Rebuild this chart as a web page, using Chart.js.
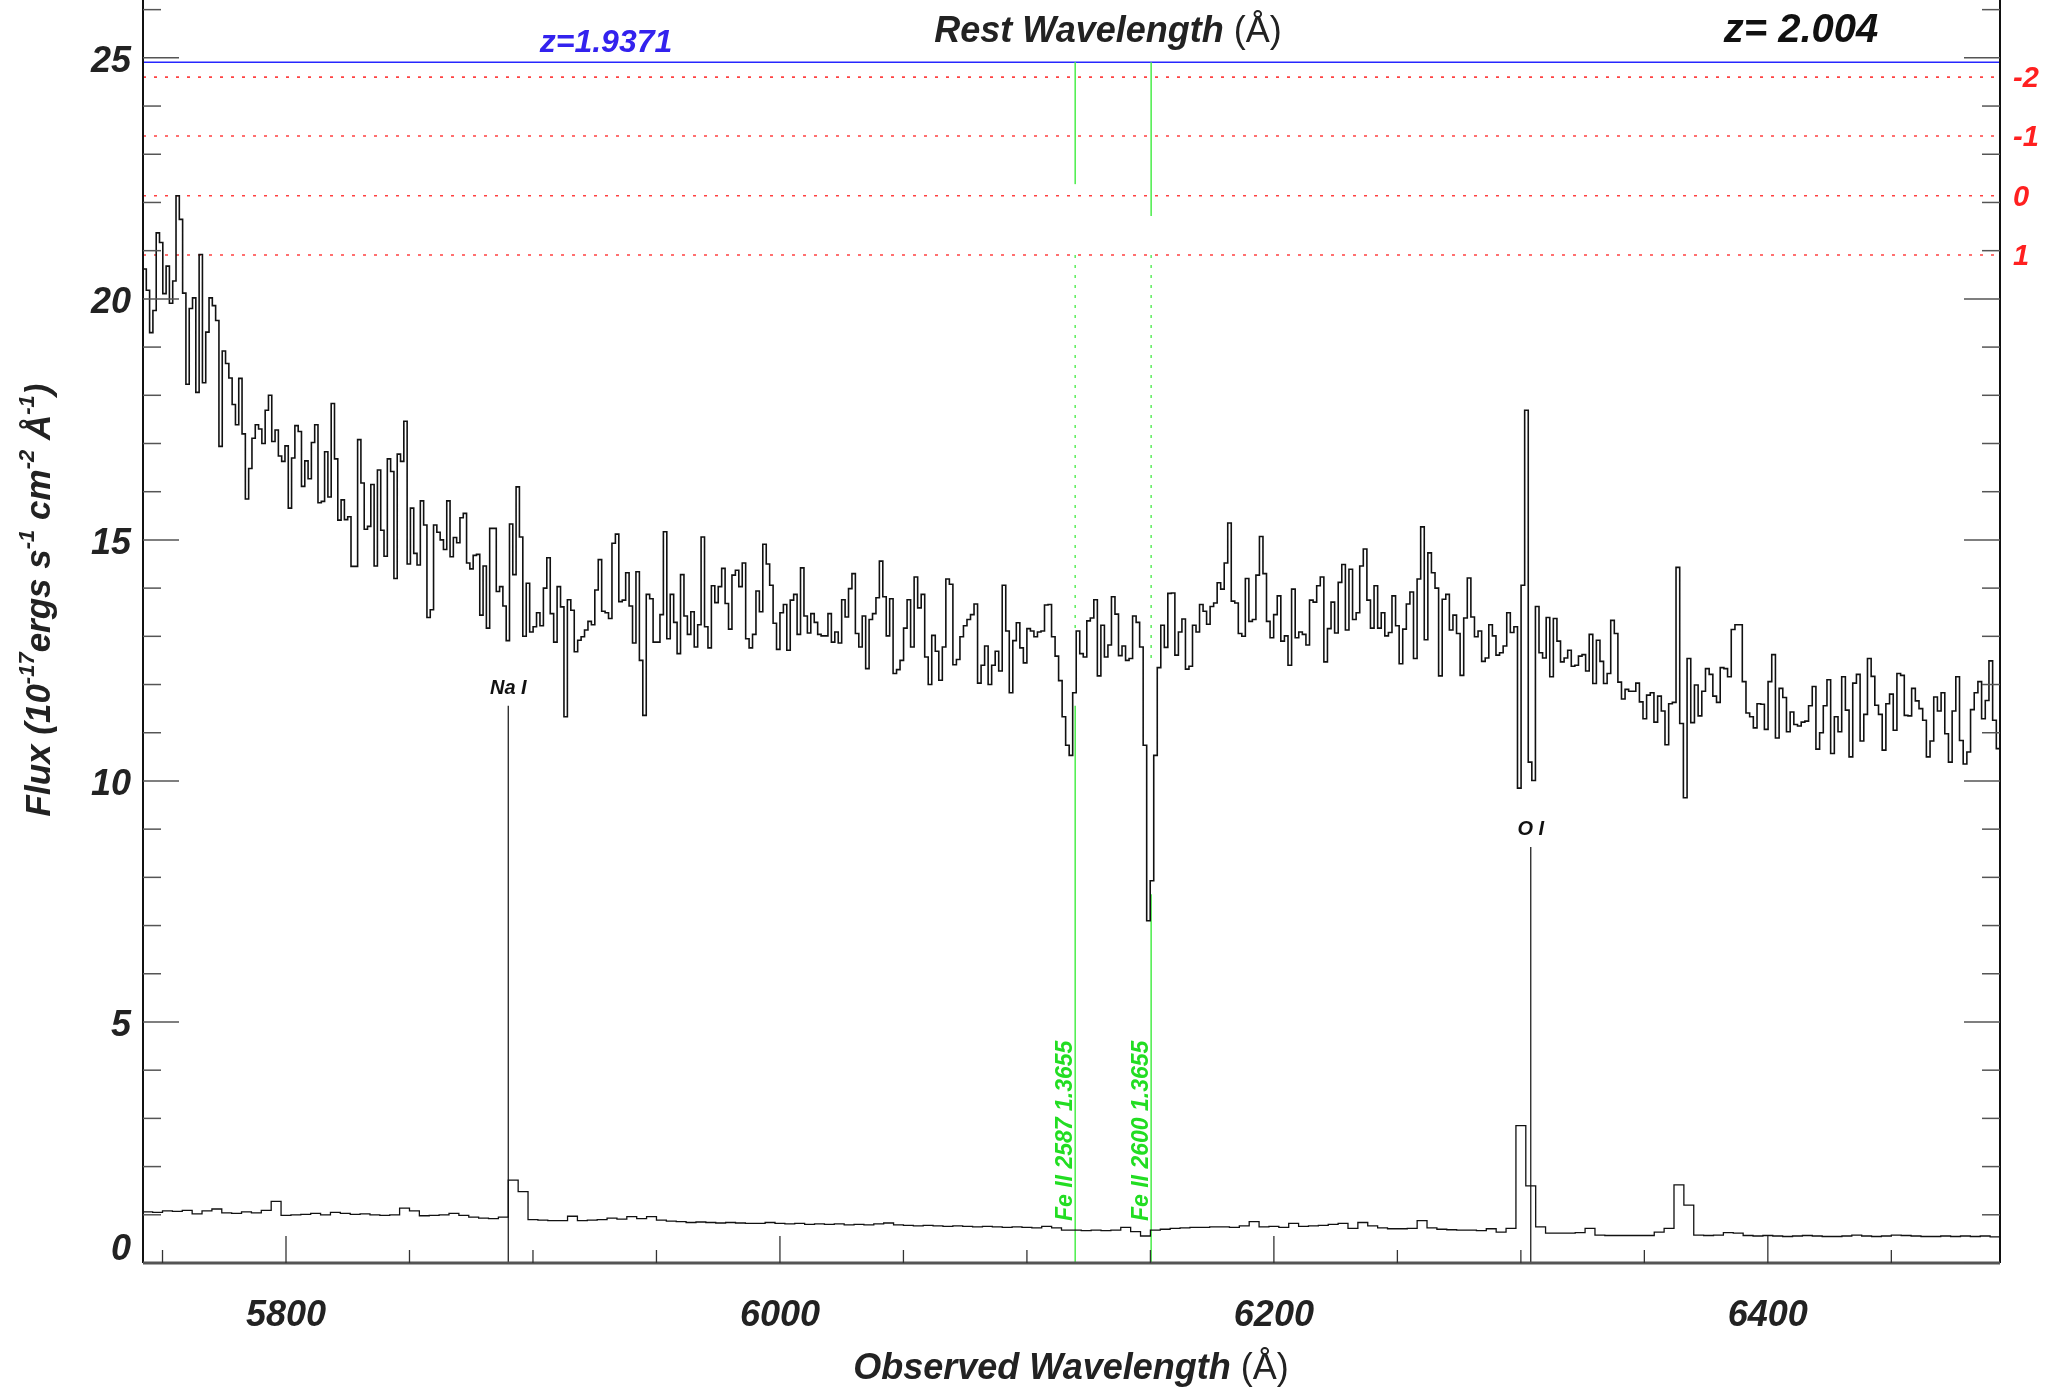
<!DOCTYPE html>
<html>
<head>
<meta charset="utf-8">
<script src="https://cdn.jsdelivr.net/npm/chart.js@4.4.1/dist/chart.umd.min.js"></script>
<style>
  html, body { margin: 0; padding: 0; background: #fff; }
  canvas { display: block; }
</style>
</head>
<body>
<canvas id="spec" width="2049" height="1387"></canvas>
<script>
// ===== Data =====
// axis ranges (Angstrom / 1e-17 flux units)
const LAM_MIN = 5742.1, LAM_MAX = 6494.0;
const FLUX_MIN = 0, FLUX_MAX = 26.2;
const xTickLabels = [5800, 6000, 6200, 6400];
const yTickLabels = [0, 5, 10, 15, 20, 25];

// spectrum, read in 5 chunks; each chunk spans segEdges[k]..segEdges[k+1]
const segEdges = [5742.1, 5894.5, 6047.2, 6197.0, 6350.9, 6494.0];
const flux1 = [
  20.62, 20.18, 19.30, 19.76, 21.37, 21.17, 20.11, 20.68, 19.91, 20.37,
  22.14, 21.65, 20.12, 18.23, 19.80, 20.02, 18.06, 20.92, 18.26, 19.31,
  20.02, 19.86, 19.55, 16.94, 18.92, 18.66, 18.36, 17.81, 17.39, 18.35,
  17.20, 15.85, 16.48, 17.11, 17.39, 17.30, 17.00, 17.69, 18.00, 17.04,
  17.28, 16.74, 16.63, 16.95, 15.66, 16.70, 17.37, 17.25, 16.11, 16.64,
  16.27, 17.02, 17.39, 15.77, 15.80, 16.83, 15.89, 17.83, 16.68, 15.41,
  15.83, 15.42, 15.48, 14.45, 14.45, 17.08, 16.18, 15.22, 15.28, 16.15,
  14.46, 16.45, 15.20, 14.66, 16.68, 16.42, 14.20, 16.78, 16.63, 17.46,
  14.50, 15.66, 14.72, 14.48, 15.81, 15.31, 13.39, 13.55, 15.31, 15.16,
  15.00, 14.80, 15.81, 14.65, 15.05, 14.94, 15.46, 15.55, 14.52, 14.40,
  14.68, 14.70, 13.44, 14.46, 13.17, 15.24, 15.24, 13.93, 14.03, 13.63,
  12.91, 15.33, 14.28, 16.10
];
const flux2 = [
  15.06, 13.00, 14.10, 13.09, 13.20, 13.49, 13.22, 14.00, 14.63, 13.47,
  12.88, 14.03, 13.61, 11.33, 13.76, 13.54, 12.68, 12.92, 12.99, 13.13,
  13.31, 13.24, 13.96, 14.59, 13.52, 13.49, 13.37, 14.93, 15.12, 13.72,
  13.75, 14.32, 13.63, 12.86, 14.34, 12.50, 11.36, 13.87, 13.78, 12.88,
  12.88, 13.45, 15.17, 12.95, 13.87, 13.29, 12.64, 14.28, 13.42, 13.04,
  13.51, 12.78, 13.24, 15.06, 13.20, 12.76, 14.05, 13.70, 14.03, 14.41,
  13.68, 13.15, 14.27, 14.37, 14.03, 14.52, 12.95, 12.76, 13.04, 13.94,
  13.51, 14.91, 14.50, 14.06, 13.27, 12.73, 13.49, 13.66, 12.71, 13.75,
  13.87, 13.04, 14.42, 13.42, 13.07, 13.47, 13.29, 13.04, 13.01, 13.01,
  13.47, 12.88, 13.09, 12.86, 13.76, 13.40, 13.99, 14.30, 13.06, 12.78,
  13.42, 12.33, 13.35, 13.47, 13.80, 14.56, 13.82, 13.01, 13.78, 12.23
];
const flux3 = [
  12.31, 12.50, 13.17, 13.76, 12.78, 14.23, 13.59, 13.87, 12.57, 12.00,
  13.02, 12.69, 12.09, 12.78, 14.19, 14.08, 12.41, 12.52, 12.99, 13.22,
  13.35, 13.45, 13.67, 12.03, 12.40, 12.80, 12.00, 12.40, 12.69, 12.28,
  14.06, 13.11, 11.83, 12.91, 13.28, 12.76, 12.45, 13.16, 13.11, 12.99,
  13.09, 13.11, 13.65, 13.66, 12.99, 12.59, 12.08, 11.33, 10.74, 10.53,
  11.83, 13.11, 12.64, 12.57, 13.32, 13.38, 13.76, 12.18, 13.23, 12.57,
  12.82, 13.82, 13.46, 12.60, 12.80, 12.50, 12.54, 13.42, 13.29, 12.78,
  10.74, 7.10, 7.93, 10.53, 12.35, 13.23, 12.77, 13.89, 13.90, 12.61,
  13.09, 13.36, 12.32, 12.38, 13.23, 13.09, 13.66, 13.52, 13.25, 13.62,
  13.69, 14.11, 13.98, 14.52, 15.35, 13.73, 13.69, 13.06, 13.00, 14.20,
  13.31, 13.35, 14.27, 15.07, 14.30
];
const flux4 = [
  13.31, 12.97, 13.45, 13.84, 12.90, 13.01, 12.40, 13.98, 12.97, 13.09,
  13.04, 12.82, 13.75, 13.71, 14.05, 14.23, 12.47, 13.16, 13.71, 13.07,
  14.12, 14.49, 13.13, 14.39, 13.35, 13.49, 14.46, 14.81, 13.75, 13.17,
  14.05, 13.17, 13.49, 13.01, 13.08, 13.84, 13.22, 12.43, 13.15, 13.67,
  13.92, 12.54, 14.19, 15.27, 12.93, 14.73, 14.32, 14.00, 12.18, 13.77,
  13.87, 13.13, 13.44, 13.06, 12.19, 13.38, 14.21, 13.40, 12.99, 13.11,
  12.48, 12.55, 13.24, 13.01, 12.61, 12.66, 12.80, 13.49, 13.08, 13.20,
  9.85, 14.06, 17.69, 10.39, 10.01, 13.62, 12.66, 12.55, 13.39, 12.16,
  13.37, 12.90, 12.47, 12.55, 12.71, 12.38, 12.40, 12.59, 12.62, 12.28,
  13.04, 12.02, 12.92, 12.48, 12.02, 12.23, 13.33, 13.06, 12.05, 11.70,
  11.90, 11.86, 11.86, 12.03, 11.64, 11.29
];
const flux5 = [
  11.78, 11.83, 11.22, 11.76, 11.45, 10.75, 11.60, 11.63, 14.43, 11.19,
  9.65, 12.54, 11.21, 11.99, 11.35, 11.86, 12.33, 12.21, 11.76, 11.63,
  12.35, 12.33, 12.16, 13.14, 13.24, 13.24, 12.06, 11.41, 11.33, 11.10,
  11.60, 11.59, 11.07, 12.06, 12.62, 10.89, 11.92, 11.73, 11.02, 11.43,
  11.17, 11.14, 11.22, 11.24, 11.56, 11.96, 10.66, 11.00, 11.56, 12.10,
  10.57, 11.33, 11.02, 12.16, 11.47, 10.50, 12.03, 12.21, 10.83, 11.38,
  12.54, 12.17, 11.57, 11.38, 10.64, 11.60, 11.80, 11.05, 12.23, 12.19,
  11.36, 11.35, 11.92, 11.66, 11.50, 11.26, 10.50, 10.83, 11.74, 11.45,
  11.83, 10.98, 10.39, 11.45, 12.16, 10.84, 10.35, 10.60, 11.48, 11.83,
  12.06, 11.29, 11.67, 12.49, 11.26, 10.67
];

// lower curve, 4 A bins from 5742
const lowerStart = 5742, lowerStep = 4;
const lowerFlux = [
  1.06, 1.05, 1.08, 1.07, 1.09, 1.02, 1.08, 1.12, 1.04, 1.03, 1.06, 1.04, 1.09, 1.28,
  0.99, 1.00, 1.01, 1.03, 1.00, 1.05, 1.03, 1.01, 1.02, 1.00, 0.99, 1.00,
  1.14, 1.08, 0.98, 0.99, 1.00, 1.03, 0.99, 0.95, 0.93, 0.92, 0.95, 1.72, 1.48, 0.90,
  0.89, 0.88, 0.88, 0.97, 0.88, 0.89, 0.90, 0.93, 0.91, 0.96, 0.92, 0.96, 0.89,
  0.87, 0.86, 0.84, 0.85, 0.84, 0.83, 0.84, 0.83, 0.82, 0.82, 0.84, 0.82, 0.81, 0.82,
  0.80, 0.81, 0.80, 0.81, 0.79, 0.80, 0.79, 0.81, 0.83,
  0.79, 0.78, 0.77, 0.78, 0.77, 0.76, 0.77, 0.76, 0.75, 0.76, 0.75, 0.74, 0.75, 0.74,
  0.73, 0.76, 0.73, 0.68,
  0.68, 0.67, 0.68, 0.67, 0.68, 0.74, 0.65, 0.56,
  0.68, 0.70, 0.72, 0.73, 0.74, 0.74, 0.75, 0.75, 0.74, 0.77, 0.86, 0.75, 0.76, 0.74,
  0.82, 0.76, 0.77, 0.78, 0.80, 0.82, 0.72, 0.84, 0.77, 0.73, 0.71, 0.71, 0.72, 0.88,
  0.73, 0.70, 0.69, 0.68, 0.68, 0.67, 0.71, 0.64, 0.72,
  2.85, 1.60, 0.75, 0.62,
  0.62, 0.62, 0.63, 0.72, 0.58, 0.57, 0.57, 0.57, 0.57,
  0.57, 0.64, 0.72, 1.62, 1.20, 0.58,
  0.57, 0.58, 0.63, 0.62, 0.57, 0.56, 0.57, 0.56, 0.55, 0.56, 0.57, 0.56, 0.55, 0.55,
  0.56, 0.58, 0.56, 0.55, 0.56, 0.58, 0.57, 0.56, 0.55, 0.55, 0.56, 0.55, 0.56, 0.55,
  0.56, 0.54
];

// reference levels
const zAbs = 1.3655;
const feNames = ['Fe II 2587', 'Fe II 2600'];
const feRest = [2587, 2600];
const feTopEnd = [22.38, 21.72];   // solid part below the blue line
const feDotEnd = [13.17, 12.50];   // dotted part ends here
const feLowTop = [11.56, 7.65];    // lower solid part starts here
const emNames = ['Na I', 'O I'];
const emLam = [5890, 6304];
const emTop = [11.56, 8.63];
const blueLevel = 24.91;
const sigmaLevels = [24.60, 23.38, 22.14, 20.91];
const sigmaLabels = ['-2', '-1', '0', '1'];

// ===== Build points =====
const specPts = [];
[flux1, flux2, flux3, flux4, flux5].forEach((seg, k) => {
  const lo = segEdges[k], hi = segEdges[k + 1];
  const w = (hi - lo) / seg.length;
  seg.forEach((f, i) => specPts.push({ x: lo + (i + 0.5) * w, y: f }));
});
specPts.unshift({ x: LAM_MIN, y: flux1[0] });
specPts.push({ x: LAM_MAX, y: flux5[flux5.length - 1] });

const lowerPts = lowerFlux.map((f, i) => ({ x: lowerStart + (i + 0.5) * lowerStep, y: f }));
lowerPts.unshift({ x: lowerStart, y: lowerFlux[0] });
lowerPts.push({ x: lowerStart + lowerFlux.length * lowerStep, y: lowerFlux[lowerFlux.length - 1] });

// ===== Drawing helpers =====
const FONT = '"Liberation Sans", Arial, sans-serif';
const bi = px => `italic bold ${px}px ${FONT}`;

const line = (ctx, x1, y1, x2, y2, color, width, dash) => {
  ctx.save();
  ctx.strokeStyle = color;
  ctx.lineWidth = width;
  ctx.setLineDash(dash || []);
  ctx.beginPath();
  ctx.moveTo(x1, y1);
  ctx.lineTo(x2, y2);
  ctx.stroke();
  ctx.restore();
};

const text = (ctx, s, x, y, font, color, align, base) => {
  ctx.save();
  ctx.font = font;
  ctx.fillStyle = color;
  ctx.textAlign = align || 'center';
  ctx.textBaseline = base || 'alphabetic';
  ctx.fillText(s, x, y);
  ctx.restore();
};

// text made of [string, font, raise] pieces, centred at cx
const richText = (ctx, parts, cx, y, color) => {
  ctx.save();
  ctx.fillStyle = color;
  ctx.textBaseline = 'alphabetic';
  ctx.textAlign = 'left';
  let total = 0;
  parts.forEach(p => { ctx.font = p[1]; total += ctx.measureText(p[0]).width; });
  let x = cx - total / 2;
  parts.forEach(p => {
    ctx.font = p[1];
    ctx.fillText(p[0], x, y - (p[2] || 0));
    x += ctx.measureText(p[0]).width;
  });
  ctx.restore();
};

// ===== Overlay plugin =====
const overlay = {
  id: 'overlay',
  beforeDatasetsDraw(chart) {
    const { ctx, chartArea: a, scales: { x, y } } = chart;
    // sigma levels
    sigmaLevels.forEach(v => line(ctx, a.left, y.getPixelForValue(v), a.right, y.getPixelForValue(v), 'rgba(255,45,45,0.9)', 1.6, [3, 8]));
    // blue redshift line
    line(ctx, a.left, y.getPixelForValue(blueLevel), a.right, y.getPixelForValue(blueLevel), '#2626ff', 1.6);
    // absorption lines
    feRest.forEach((r, i) => {
      const px = x.getPixelForValue(r * (1 + zAbs));
      line(ctx, px, y.getPixelForValue(blueLevel), px, y.getPixelForValue(feTopEnd[i]), '#55ee55', 1.6);
      line(ctx, px, y.getPixelForValue(sigmaLevels[3]), px, y.getPixelForValue(feDotEnd[i]), '#66ee66', 1.6, [3, 7]);
      line(ctx, px, y.getPixelForValue(feLowTop[i]), px, a.bottom, '#55ee55', 1.6);
    });
    // emission markers
    emLam.forEach((l, i) => {
      const px = x.getPixelForValue(l);
      line(ctx, px, y.getPixelForValue(emTop[i]), px, a.bottom, '#222', 1.3);
    });
  },
  afterDatasetsDraw(chart) {
    const { ctx, chartArea: a, scales: { x, y } } = chart;
    const tickCol = '#555';

    // frame
    line(ctx, a.left, 0, a.left, a.bottom, '#111', 2);
    line(ctx, a.right, 0, a.right, a.bottom, '#111', 2);
    line(ctx, a.left, a.bottom, a.right, a.bottom, '#555', 3);

    // y ticks, both sides, pointing inward
    for (let v = 0; v <= Math.floor(FLUX_MAX); v++) {
      const py = y.getPixelForValue(v);
      const len = v % 5 === 0 ? 36 : 18;
      line(ctx, a.left, py, a.left + len, py, tickCol, 1.5);
      line(ctx, a.right - len, py, a.right, py, tickCol, 1.5);
    }
    yTickLabels.forEach(v => {
      const py = Math.min(y.getPixelForValue(v) + 4, a.bottom - 13);
      text(ctx, String(v), a.left - 12, py, bi(36), '#222', 'right', 'middle');
    });

    // x ticks
    for (let l = Math.ceil(LAM_MIN / 50) * 50; l <= LAM_MAX; l += 50) {
      const px = x.getPixelForValue(l);
      const len = l % 200 === 0 ? 27 : 13;
      line(ctx, px, a.bottom - len, px, a.bottom, '#333', 1.3);
    }
    xTickLabels.forEach(l => text(ctx, String(l), x.getPixelForValue(l), a.bottom + 53, bi(36), '#222', 'center', 'middle'));

    // axis titles
    richText(ctx, [['Observed Wavelength ', bi(36)], ['(Å)', `36px ${FONT}`]], 1071, 1379, '#222');
    richText(ctx, [['Rest Wavelength ', bi(36)], ['(Å)', `36px ${FONT}`]], 1108, 42, '#222');
    text(ctx, 'z= 2.004', 1801, 42, bi(40), '#111');
    text(ctx, 'z=1.9371', 606, 52, bi(32), '#3322ee');

    ctx.save();
    ctx.translate(50, 600);
    ctx.rotate(-Math.PI / 2);
    richText(ctx, [
      ['Flux (10', bi(35)], ['-17', bi(22), 16], ['ergs s', bi(35)], ['-1', bi(22), 16],
      [' cm', bi(35)], ['-2', bi(22), 16], [' Å', bi(35)], ['-1', bi(22), 16], [')', bi(35)]
    ], 0, 0, '#222');
    ctx.restore();

    // sigma labels on the right
    sigmaLevels.forEach((v, i) => text(ctx, sigmaLabels[i], a.right + 13, y.getPixelForValue(v) + 2, bi(29), '#ff2020', 'left', 'middle'));

    // line labels
    emLam.forEach((l, i) => text(ctx, emNames[i], x.getPixelForValue(l), y.getPixelForValue(emTop[i]) - 12, bi(20), '#111'));
    feRest.forEach((r, i) => {
      const px = x.getPixelForValue(r * (1 + zAbs));
      ctx.save();
      ctx.translate(px - 3, a.bottom - 42);
      ctx.rotate(-Math.PI / 2);
      text(ctx, `${feNames[i]} ${zAbs.toFixed(4)}`, 0, 0, bi(23), '#22dd22', 'left', 'alphabetic');
      ctx.restore();
    });
  }
};

// ===== Chart =====
new Chart(document.getElementById('spec').getContext('2d'), {
  type: 'line',
  data: {
    datasets: [
      { label: 'flux', data: specPts, stepped: 'middle', borderColor: '#111', borderWidth: 1.6, pointRadius: 0, fill: false },
      { label: 'lower', data: lowerPts, stepped: 'middle', borderColor: '#111', borderWidth: 1.3, pointRadius: 0, fill: false }
    ]
  },
  options: {
    responsive: false,
    animation: false,
    events: [],
    layout: { padding: { left: 143, right: 49, top: 0, bottom: 124 } },
    plugins: { legend: { display: false }, tooltip: { enabled: false } },
    scales: {
      x: { type: 'linear', min: LAM_MIN, max: LAM_MAX, display: false },
      y: { type: 'linear', min: FLUX_MIN, max: FLUX_MAX, display: false }
    }
  },
  plugins: [overlay]
});
</script>
</body>
</html>
